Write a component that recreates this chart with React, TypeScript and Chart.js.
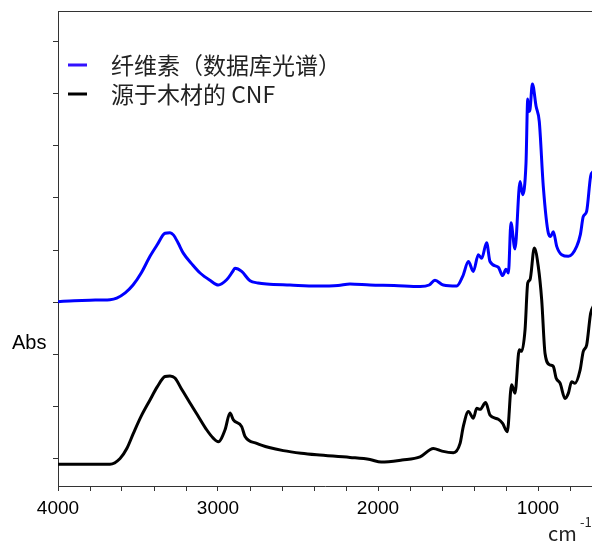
import React, { useEffect, useRef } from "react";
import { Chart, registerables } from "chart.js";
Chart.register(...registerables);

// wavenumber (cm-1) and absorbance for cellulose (database spectrum)
const celluloseWn = [4000, 3900, 3800, 3675, 3633, 3580, 3531, 3480, 3425, 3380, 3331, 3300, 3279, 3250, 3217, 3160, 3112, 3050, 2998, 2946, 2910, 2894, 2852, 2800, 2750, 2696, 2550, 2383, 2250, 2175, 2050, 1900, 1737, 1680, 1644, 1592, 1508, 1470, 1435, 1404, 1373, 1352, 1321, 1300, 1248, 1221, 1200, 1185, 1169, 1144, 1112, 1096, 1075, 1064, 1058, 1050, 1035, 1012, 992, 967, 935, 921, 904, 883, 852, 810, 758, 735, 717, 696, 671, 650];
const celluloseAbs = [0.301, 0.303, 0.304, 0.305, 0.308, 0.318, 0.333, 0.356, 0.388, 0.410, 0.432, 0.433, 0.429, 0.414, 0.394, 0.372, 0.356, 0.342, 0.333, 0.343, 0.358, 0.365, 0.359, 0.341, 0.337, 0.335, 0.333, 0.331, 0.332, 0.335, 0.333, 0.332, 0.330, 0.333, 0.342, 0.333, 0.331, 0.350, 0.378, 0.359, 0.391, 0.384, 0.414, 0.378, 0.367, 0.351, 0.363, 0.356, 0.452, 0.402, 0.531, 0.506, 0.566, 0.689, 0.665, 0.669, 0.718, 0.675, 0.646, 0.522, 0.432, 0.426, 0.435, 0.407, 0.391, 0.388, 0.407, 0.430, 0.464, 0.474, 0.541, 0.552];

// wavenumber (cm-1) and absorbance for CNF from wood
const cnfWn = [4000, 3900, 3800, 3675, 3612, 3570, 3529, 3480, 3425, 3380, 3331, 3300, 3269, 3230, 3175, 3120, 3071, 3030, 2998, 2956, 2925, 2904, 2852, 2831, 2758, 2680, 2592, 2480, 2383, 2175, 2050, 1980, 1850, 1737, 1654, 1600, 1529, 1487, 1467, 1435, 1404, 1383, 1362, 1327, 1300, 1248, 1221, 1192, 1165, 1144, 1117, 1102, 1081, 1064, 1050, 1023, 998, 977, 956, 925, 904, 887, 862, 831, 810, 790, 769, 737, 717, 696, 671, 650];
const cnfAbs = [-0.010, -0.010, -0.010, -0.010, 0.001, 0.020, 0.049, 0.082, 0.113, 0.138, 0.158, 0.159, 0.155, 0.135, 0.107, 0.080, 0.056, 0.040, 0.033, 0.056, 0.088, 0.075, 0.062, 0.043, 0.030, 0.022, 0.016, 0.011, 0.008, 0.003, -0.001, -0.006, -0.002, 0.004, 0.020, 0.015, 0.012, 0.030, 0.062, 0.091, 0.078, 0.097, 0.095, 0.108, 0.084, 0.076, 0.068, 0.052, 0.142, 0.126, 0.209, 0.206, 0.247, 0.337, 0.343, 0.404, 0.368, 0.305, 0.202, 0.180, 0.177, 0.155, 0.145, 0.116, 0.126, 0.148, 0.145, 0.170, 0.206, 0.218, 0.279, 0.295];

const xTicks = [800, 1000, 1200, 1400, 1600, 1800, 2000, 2200, 2400, 2600, 2800, 3000, 3200, 3400, 3600, 3800, 4000];
const yTicks = [0, 0.1, 0.2, 0.3, 0.4, 0.5, 0.6, 0.7, 0.8];
const seriesLabels = ["纤维素（数据库光谱）", "源于木材的 CNF"];
const seriesColors = ["#0000ff", "#000000"];
const legendColors = ["#3311ff", "#000000"];
const yTitle = "Abs";
const xTitle = "cm";
const xTitleSup = "-1";

const FONT = "'Noto Sans CJK SC', 'Noto Sans CJK JP', 'Noto Sans', sans-serif";
const LATIN = "'Liberation Sans', Arial, sans-serif";

const overlayPlugin = {
  id: "overlay",
  afterDraw(chart: any) {
    const { ctx, chartArea } = chart;
    ctx.save();
    // top border
    ctx.strokeStyle = "#333";
    ctx.lineWidth = 1;
    ctx.beginPath();
    ctx.moveTo(chartArea.left, chartArea.top + 0.5);
    ctx.lineTo(chartArea.right, chartArea.top + 0.5);
    ctx.stroke();
    // legend
    ctx.textBaseline = "middle";
    ctx.textAlign = "left";
    ctx.font = `23px ${FONT}`;
    const rows = [65, 94];
    seriesLabels.forEach((label, i) => {
      ctx.strokeStyle = legendColors[i];
      ctx.lineWidth = 3;
      ctx.beginPath();
      ctx.moveTo(68, rows[i]);
      ctx.lineTo(87, rows[i]);
      ctx.stroke();
      ctx.fillStyle = "#222";
      ctx.fillText(label, 111, rows[i]);
    });
    // y title
    ctx.fillStyle = "#000";
    ctx.font = `20px ${LATIN}`;
    ctx.fillText(yTitle, 12, 343);
    // x title
    ctx.fillStyle = "#222";
    ctx.font = `20px ${FONT}`;
    ctx.fillText(xTitle, 548, 533);
    ctx.font = `13px ${FONT}`;
    ctx.fillText(xTitleSup, 580, 522);
    ctx.restore();
  },
};

export default function App() {
  const ref = useRef<HTMLCanvasElement>(null);
  useEffect(() => {
    if (!ref.current) return;
    const chart = new Chart(ref.current, {
      type: "line",
      data: {
        datasets: [
          {
            label: seriesLabels[0],
            data: celluloseWn.map((x, i) => ({ x, y: celluloseAbs[i] })),
            borderColor: seriesColors[0],
            borderWidth: 3,
            pointRadius: 0,
            cubicInterpolationMode: "monotone",
            fill: false,
          },
          {
            label: seriesLabels[1],
            data: cnfWn.map((x, i) => ({ x, y: cnfAbs[i] })),
            borderColor: seriesColors[1],
            borderWidth: 3,
            pointRadius: 0,
            cubicInterpolationMode: "monotone",
            fill: false,
          },
        ],
      },
      options: {
        responsive: false,
        animation: false,
        layout: { padding: { top: 11, left: 0, right: 0, bottom: 0 } },
        plugins: { legend: { display: false }, tooltip: { enabled: false } },
        scales: {
          x: {
            type: "linear",
            reverse: true,
            min: 662.5,
            max: 4000,
            afterBuildTicks: (s: any) => {
              s.ticks = xTicks.map((v) => ({ value: v }));
            },
            afterFit: (s: any) => {
              s.height = 56;
            },
            ticks: {
              callback: (v: any) => (Number(v) % 1000 === 0 ? String(v) : ""),
              font: { family: LATIN, size: 19 },
              color: "#000",
              maxRotation: 0,
              autoSkip: false,
              padding: 6,
            },
            grid: { drawOnChartArea: false, drawTicks: true, tickLength: 5, color: "#333", lineWidth: 1 },
            border: { display: true, color: "#333", width: 1 },
          },
          y: {
            type: "linear",
            min: -0.0517,
            max: 0.8575,
            afterBuildTicks: (s: any) => {
              s.ticks = yTicks.map((v) => ({ value: v }));
            },
            afterFit: (s: any) => {
              s.width = 58;
            },
            ticks: { display: false },
            grid: { drawOnChartArea: false, drawTicks: true, tickLength: 5, color: "#333", lineWidth: 1 },
            border: { display: true, color: "#333", width: 1 },
          },
        },
      },
      plugins: [overlayPlugin],
    });
    return () => chart.destroy();
  }, []);
  return (
    <div style={{ position: "fixed", left: 0, top: 0, width: 592, height: 542, background: "#fff" }}>
      <canvas ref={ref} width={592} height={542} style={{ display: "block" }} />
    </div>
  );
}
